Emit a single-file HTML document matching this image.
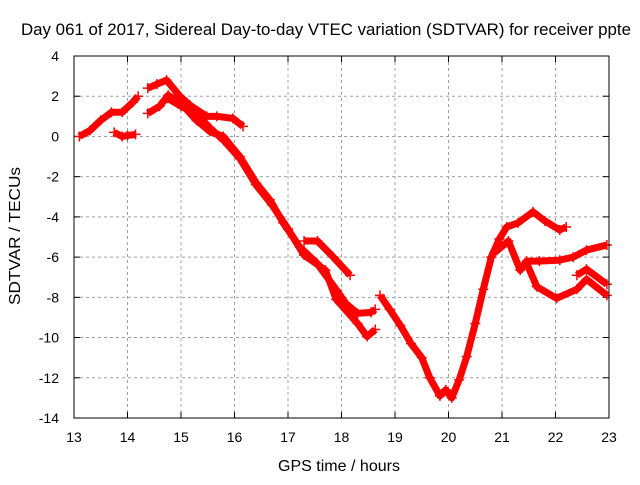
<!DOCTYPE html>
<html><head><meta charset="utf-8"><style>
body{margin:0;background:#fff}
svg text{font-family:"Liberation Sans",sans-serif;fill:#000}
</style></head><body>
<svg id="chart" width="640" height="480" xmlns="http://www.w3.org/2000/svg">
<rect width="640" height="480" fill="#fff"/>
<text x="326" y="35" font-size="16.5" text-anchor="middle" textLength="610" lengthAdjust="spacingAndGlyphs">Day 061 of 2017, Sidereal Day-to-day VTEC variation (SDTVAR) for receiver ppte</text>
<text x="339" y="471" font-size="16" text-anchor="middle" textLength="122" lengthAdjust="spacingAndGlyphs">GPS time / hours</text>
<text transform="translate(20,236) rotate(-90)" font-size="16" text-anchor="middle" textLength="138" lengthAdjust="spacingAndGlyphs">SDTVAR / TECUs</text>
<g id="grid"></g><g id="series"></g>
<rect x="74" y="56" width="535" height="362" fill="none" stroke="#000" stroke-width="1"/>
</svg>
<script>
const xTicks=[13,14,15,16,17,18,19,20,21,22,23];
const yTicks=[4,2,0,-2,-4,-6,-8,-10,-12,-14];
const s1h=[13.1,13.3,13.5,13.7,13.9,14.1,14.2];
const s1v=[0.0,0.3,0.8,1.2,1.2,1.7,2.0];
const s2h=[13.75,13.9,14.0,14.15];
const s2v=[0.2,0.0,0.05,0.1];
const s3h=[14.38,14.55,14.73,14.98,15.17,15.48,15.67,15.97,16.16];
const s3v=[2.4,2.6,2.8,2.0,1.55,1.0,1.0,0.9,0.5];
const s4h=[14.38,14.6,14.76,14.98,15.29,15.54,15.79,16.1,16.41,16.66,16.91,17.22,17.54,17.91,18.08,18.3,18.55,18.63];
const s4v=[1.15,1.5,2.05,1.7,0.8,0.25,0.0,-1.0,-2.33,-3.15,-4.3,-5.5,-6.3,-7.65,-8.3,-8.8,-8.75,-8.6];
const s5h=[14.75,15.0,15.3,15.55,15.8,16.1,16.4,16.7,17.0,17.3,17.7,17.9,18.3,18.48,18.63];
const s5v=[1.9,1.5,1.1,0.4,-0.2,-1.1,-2.4,-3.4,-4.6,-5.9,-6.65,-8.1,-9.3,-9.95,-9.6];
const s6h=[17.3,17.55,17.84,18.16];
const s6v=[-5.2,-5.2,-5.98,-6.9];
const s7h=[18.72,18.9,19.1,19.3,19.5,19.65,19.84,19.95,20.06,20.2,20.34,20.5,20.65,20.8,20.95,21.09,21.3,21.58,21.8,22.08,22.2];
const s7v=[-7.9,-8.6,-9.4,-10.3,-11.0,-12.0,-12.9,-12.6,-13.0,-12.1,-10.95,-9.3,-7.6,-6.0,-5.1,-4.5,-4.3,-3.75,-4.2,-4.65,-4.5];
const s8h=[20.85,21.12,21.34,21.46,21.7,22.08,22.33,22.58,22.96];
const s8v=[-5.8,-5.2,-6.65,-6.2,-6.2,-6.15,-6.0,-5.65,-5.4];
const s9h=[21.46,21.65,22.02,22.4,22.58,22.96];
const s9v=[-6.3,-7.47,-8.05,-7.6,-7.1,-7.9];
const s10h=[22.4,22.58,22.96];
const s10v=[-6.9,-6.6,-7.35];
const NS="http://www.w3.org/2000/svg";
const X0=74,X1=609,Y0=418,Y1=56;
function xs(h){return X0+(h-13)/10*(X1-X0);}
function ys(v){return Y0-(v+14)/18*(Y0-Y1);}
function mk(t,a){const e=document.createElementNS(NS,t);for(const k in a)e.setAttribute(k,a[k]);return e;}
const grid=document.getElementById('grid');
xTicks.forEach(t=>{const x=xs(t);
 if(t>13&&t<23){const l=mk('line',{x1:x,x2:x,y1:Y1,y2:Y0,stroke:'#a0a0a0','stroke-dasharray':'3,3'});
 
 grid.appendChild(l);}
 grid.appendChild(mk('line',{x1:x,x2:x,y1:Y0,y2:Y0-6,stroke:'#000'}));
 grid.appendChild(mk('line',{x1:x,x2:x,y1:Y1,y2:Y1+6,stroke:'#000'}));
 const tx=mk('text',{x:x,y:Y0+24,'font-size':14,'text-anchor':'middle'});tx.textContent=t;
 
 grid.appendChild(tx);});
yTicks.forEach(t=>{const y=ys(t);
 if(t>-14&&t<4){const l=mk('line',{x1:X0,x2:X1,y1:y,y2:y,stroke:'#a0a0a0','stroke-dasharray':'3,3'});
 
 grid.appendChild(l);}
 grid.appendChild(mk('line',{x1:X0,x2:X0+6,y1:y,y2:y,stroke:'#000'}));
 grid.appendChild(mk('line',{x1:X1,x2:X1-6,y1:y,y2:y,stroke:'#000'}));
 const tx=mk('text',{x:X0-15,y:y+5,'font-size':14,'text-anchor':'end'});tx.textContent=t;
 
 grid.appendChild(tx);});
const sg=document.getElementById('series');
[[s1h,s1v],[s2h,s2v],[s3h,s3v],[s4h,s4v],[s5h,s5v],[s6h,s6v],[s7h,s7v],[s8h,s8v],[s9h,s9v],[s10h,s10v]].forEach((s,i)=>{
 const pts=s[0].map((h,j)=>xs(h)+','+ys(s[1][j])).join(' ');
 const p=mk('polyline',{points:pts,fill:'none',stroke:'#ff0000','stroke-width':7,'stroke-linejoin':'round','stroke-linecap':'butt'});
 
 
 sg.appendChild(p);
 s[0].forEach((h,j)=>{const x=xs(h),y=ys(s[1][j]);
  const c=mk('path',{d:`M${x-5},${y}H${x+5}M${x},${y-5}V${y+5}`,stroke:'#ff0000','stroke-width':1.5});
  
  
  sg.appendChild(c);});
});
</script>
</body></html>
